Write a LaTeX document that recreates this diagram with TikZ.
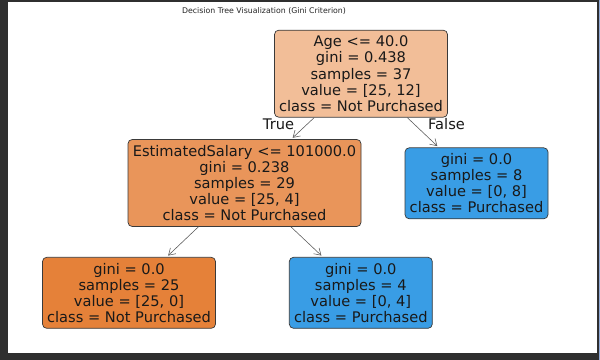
\documentclass[tikz,border=0pt]{standalone}
\usepackage{fontspec}
\setmainfont{DejaVu Sans}
\usetikzlibrary{arrows.meta, positioning}

\definecolor{framegray}{HTML}{2F2F2F}
\definecolor{edgeblue}{HTML}{8FA9D6}
\definecolor{rootfill}{HTML}{F2BE98}
\definecolor{splitfill}{HTML}{E9955A}
\definecolor{orangeleaf}{HTML}{E58139}
\definecolor{blueleaf}{HTML}{399DE5}
\definecolor{boxline}{HTML}{3A3A3A}

\begin{document}
\begin{tikzpicture}[
    x=0.025cm, y=-0.025cm,
    treenode/.style={draw=boxline, line width=0.5pt, rounded corners=3pt, align=center,
        font=\fontsize{10.4pt}{11.4pt}\selectfont, text=black!90, inner sep=0pt},
    splitnode/.style={treenode, minimum height=87*0.025cm},
    leafnode/.style={treenode, minimum height=71*0.025cm},
    edge/.style={draw=black!65, line width=0.4pt, -{Straight Barb[length=1.6mm, width=2mm]}, shorten >=2*0.025cm},
    edgelabel/.style={font=\fontsize{10.4pt}{11.4pt}\selectfont, text=black!90, inner sep=0pt}
]
% screen frame around the figure
\fill[framegray] (0,0) rectangle (600,360);
\fill[white] (8,2.5) rectangle (597,353);
\fill[edgeblue] (599,0) rectangle (600,360);
\useasboundingbox (0,0) rectangle (600,360);

\node[font=\fontsize{5.55pt}{6pt}\selectfont, text=black!85] (title) at (264,11.5) {Decision Tree Visualization (Gini Criterion)};

% split nodes
\node[splitnode, fill=rootfill, minimum width=173*0.025cm] (root) at (361,73.7)
    {Age <= 40.0\\gini = 0.438\\samples = 37\\value = [25, 12]\\class = Not Purchased};
\node[splitnode, fill=splitfill, minimum width=233*0.025cm] (salary) at (244.5,183)
    {EstimatedSalary <= 101000.0\\gini = 0.238\\samples = 29\\value = [25, 4]\\class = Not Purchased};

% leaves
\node[leafnode, fill=blueleaf, minimum width=143*0.025cm] (leafR) at (476.5,183.3)
    {gini = 0.0\\samples = 8\\value = [0, 8]\\class = Purchased};
\node[leafnode, fill=orangeleaf, minimum width=173*0.025cm] (leafLL) at (129,292.8)
    {gini = 0.0\\samples = 25\\value = [25, 0]\\class = Not Purchased};
\node[leafnode, fill=blueleaf, minimum width=143*0.025cm] (leafLR) at (360.8,292.8)
    {gini = 0.0\\samples = 4\\value = [0, 4]\\class = Purchased};

% connectors
\draw[edge] (root) -- (salary);
\draw[edge] (root) -- (leafR);
\draw[edge] (salary) -- (leafLL);
\draw[edge] (salary) -- (leafLR);

\node[edgelabel] (truelbl) at (278.5,124) {True};
\node[edgelabel] (falselbl) at (446.5,124) {False};
\end{tikzpicture}
\end{document}
